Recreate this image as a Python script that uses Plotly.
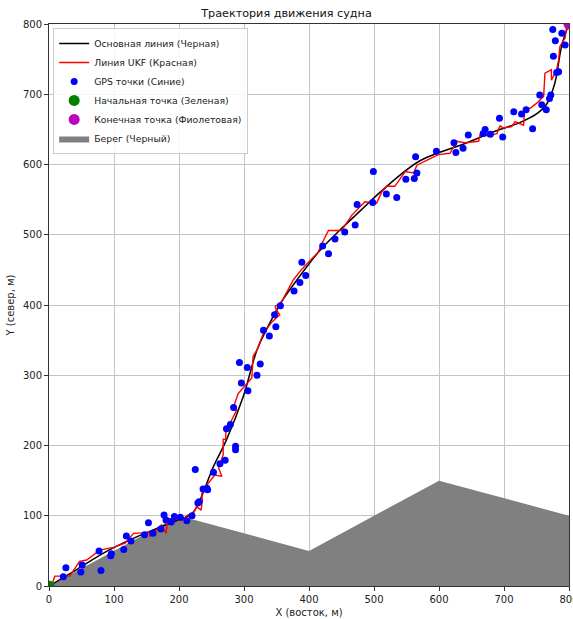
import plotly.graph_objects as go

# Main route (black)
main_x = [0, 40, 90, 140, 190, 220, 232, 253, 273, 299, 320, 340, 358, 385, 417, 448, 480, 510, 540, 570, 600, 640, 685, 725, 750, 765, 778, 789, 800]
main_y = [0, 22, 50, 72, 91, 103, 122, 170, 208, 270, 336, 375, 405, 440, 478, 507, 535, 561, 585, 605, 617, 630, 647, 660, 672, 685, 715, 770, 800]

# UKF estimate (red)
ukf_x = [0, 4, 9, 32, 47, 58, 78, 99, 117, 130, 148, 155, 155, 173, 180, 183, 196, 204, 213, 222, 227, 234, 236, 235, 243, 255, 266, 261, 268, 268, 272, 272, 281, 289, 284, 291, 312, 314, 320, 330, 343, 355, 350, 348, 358, 376, 389, 414, 420, 430, 450, 457, 466, 486, 504, 512, 520, 532, 548, 561, 566, 581, 599, 617, 627, 640, 661, 663, 676, 689, 694, 699, 712, 717, 730, 732, 740, 750, 761, 763, 773, 773, 781, 784, 786, 794, 796, 800]
ukf_y = [0, 1, 14, 14, 35, 37, 51, 55, 61, 75, 76, 77, 70, 87, 75, 96, 95, 93, 101, 103, 113, 108, 122, 131, 144, 158, 156, 168, 187, 209, 209, 222, 236, 251, 255, 274, 296, 327, 336, 360, 376, 386, 393, 398, 405, 436, 451, 475, 488, 506, 506, 516, 528, 547, 545, 561, 569, 569, 590, 588, 599, 606, 614, 616, 633, 631, 633, 642, 641, 644, 655, 652, 654, 661, 656, 678, 680, 687, 697, 730, 735, 720, 735, 749, 768, 780, 794, 800]

# GPS fixes (blue)
gps_x = [22, 26, 49, 51, 80, 77, 95, 96, 115, 119, 126, 147, 153, 160, 172, 177, 180, 188, 193, 202, 212, 220, 229, 231, 225, 237, 243, 244, 253, 263, 271, 287, 287, 273, 279, 284, 296, 306, 293, 305, 320, 325, 330, 339, 349, 347, 356, 377, 386, 395, 389, 421, 430, 440, 455, 471, 474, 498, 499, 519, 535, 549, 562, 566, 564, 596, 623, 626, 637, 645, 671, 668, 679, 693, 698, 715, 727, 734, 744, 755, 758, 765, 770, 772, 784, 781, 776, 779, 775, 794, 789]
gps_y = [13, 26, 20, 30, 22, 50, 43, 46, 52, 71, 64, 73, 90, 75, 81, 101, 94, 91, 99, 98, 93, 100, 118, 120, 166, 138, 139, 137, 162, 174, 179, 199, 194, 224, 230, 254, 289, 278, 318, 311, 300, 316, 364, 356, 369, 386, 399, 420, 432, 442, 461, 484, 473, 494, 504, 514, 543, 546, 590, 558, 553, 579, 580, 588, 611, 619, 631, 617, 623, 642, 650, 644, 643, 666, 639, 675, 672, 678, 651, 699, 685, 678, 694, 699, 732, 731, 754, 776, 792, 770, 787]

start_pt = (0, 0)
end_pt = (800, 800)

# Shore polygon (grey)
shore_x = [0, 200, 400, 600, 800, 800, 0]
shore_y = [0, 100, 50, 150, 100, 0, 0]

FONT = "DejaVu Sans"

fig = go.Figure()
fig.add_trace(go.Scatter(x=shore_x, y=shore_y, mode="lines", fill="toself",
                         fillcolor="#808080", line=dict(width=0, color="#808080"),
                         name="Берег (Черный)", legendrank=6))
fig.add_trace(go.Scatter(x=main_x, y=main_y, mode="lines", line=dict(color="black", width=1.5, shape="spline"),
                         name="Основная линия (Черная)", legendrank=1))
fig.add_trace(go.Scatter(x=ukf_x, y=ukf_y, mode="lines", line=dict(color="red", width=1.4),
                         name="Линия UKF (Красная)", legendrank=2))
fig.add_trace(go.Scatter(x=gps_x, y=gps_y, mode="markers", marker=dict(color="blue", size=7),
                         name="GPS точки (Синие)", legendrank=3))
fig.add_trace(go.Scatter(x=[start_pt[0]], y=[start_pt[1]], mode="markers", marker=dict(color="green", size=11),
                         name="Начальная точка (Зеленая)", legendrank=4))
fig.add_trace(go.Scatter(x=[end_pt[0]], y=[end_pt[1]], mode="markers", marker=dict(color="#bf00bf", size=11),
                         name="Конечная точка (Фиолетовая)", legendrank=5))

axis_common = dict(showgrid=True, gridcolor="#c4c4c4", gridwidth=1, zeroline=False,
                   showline=True, mirror=True, linecolor="#333333", linewidth=1,
                   ticks="outside", ticklen=4, tickcolor="#333333",
                   tickfont=dict(family=FONT, size=10, color="#222222"),
                   layer="above traces", dtick=100, automargin=False,
                   ticklabeloverflow="allow")

fig.update_layout(
    width=573, height=619,
    margin=dict(l=49, r=4, t=24, b=33),
    paper_bgcolor="white", plot_bgcolor="white",
    font=dict(family=FONT, size=10, color="#222222"),
    title=dict(text="Траектория движения судна", x=0.5, xanchor="center", y=(619 - 13) / 619, yanchor="middle",
               font=dict(family=FONT, size=11.2, color="#111111")),
    xaxis=dict(range=[0, 800], title=dict(text="X (восток, м)", standoff=4, font=dict(family=FONT, size=10)), **axis_common),
    yaxis=dict(range=[0, 800], title=dict(text="Y (север, м)", standoff=6, font=dict(family=FONT, size=10)), **axis_common),
    legend=dict(x=0.008, y=0.993, xanchor="left", yanchor="top", bgcolor="rgba(255,255,255,0.85)",
                bordercolor="#cccccc", borderwidth=1, font=dict(family=FONT, size=9.3),
                tracegroupgap=0, itemwidth=30),
    showlegend=True,
)

fig.write_html("out.html", config={"displayModeBar": False},
               post_script="document.body.style.margin='0';document.body.style.overflow='hidden';")
